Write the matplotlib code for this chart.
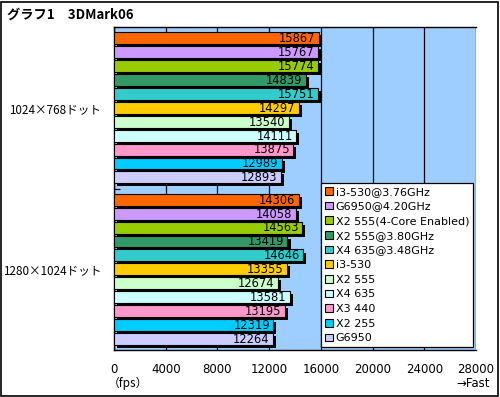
import numpy as np
import matplotlib
matplotlib.use('Agg')
import matplotlib.pyplot as plt
import matplotlib.patheffects as pe
from matplotlib.patches import Rectangle

plt.rcParams['font.family'] = ['DejaVu Sans', 'Noto Sans CJK JP']

# data
groups = ['1024×768ドット', '1280×1024ドット']
series = ['i3-530@3.76GHz', 'G6950@4.20GHz', 'X2 555(4-Core Enabled)',
          'X2 555@3.80GHz', 'X4 635@3.48GHz', 'i3-530', 'X2 555',
          'X4 635', 'X3 440', 'X2 255', 'G6950']
res_1024 = [15867, 15767, 15774, 14839, 15751, 14297, 13540, 14111, 13875, 12989, 12893]
res_1280 = [14306, 14058, 14563, 13419, 14646, 13355, 12674, 13581, 13195, 12319, 12264]
colors = ['#FF6600', '#CC99FF', '#99CC00', '#339966', '#33CCCC', '#FFCC00',
          '#CCFFCC', '#CCFFFF', '#FF99CC', '#00CCFF', '#CCCCFF']
xticks = [0, 4000, 8000, 12000, 16000, 20000, 24000, 28000]

values = [res_1024, res_1280]
jp = ['Noto Sans CJK JP', 'DejaVu Sans']

fig = plt.figure(figsize=(5.0, 3.97), dpi=100)
ax = fig.add_axes([0.228, 0.118, 0.724, 0.814])
ax.set_facecolor('#9ECEFF')

gw = 11.6  # group pitch in bar slots
shadow = [pe.SimplePatchShadow(offset=(2.2, -2.2), shadow_rgbFace='k', alpha=1.0), pe.Normal()]

for g in range(len(groups)):
    for j in range(len(series)):
        y = g * gw + 0.3 + j + 0.5
        v = values[g][j]
        b = ax.barh(y, v, height=0.86, color=colors[j], edgecolor='k',
                    linewidth=0.8, zorder=3, label=series[j] if g == 0 else None)
        b[0].set_path_effects(shadow)
        ax.annotate(str(v), (v, y), xytext=(-2.5, -0.3), textcoords='offset points',
                    ha='right', va='center', fontsize=8.3, zorder=5)

ax.set_xlim(0, 28000)
ax.set_ylim(2 * gw, 0)
ax.set_xticks(xticks)
ax.set_xticklabels([str(t) for t in xticks], fontsize=8.5)
ax.tick_params(axis='x', length=0, pad=9)
ax.grid(axis='x', color='k', linewidth=0.9, zorder=1)

ax.set_yticks([0, gw, 2 * gw])
ax.set_yticklabels([])
ax.tick_params(axis='y', which='major', direction='in', length=4, color='k')
ax.set_yticks([gw / 2, gw * 1.5], minor=True)
ax.set_yticklabels(groups, minor=True, fontsize=8.4, family=jp)
ax.tick_params(axis='y', which='minor', length=0, pad=9)

for s in ['left', 'bottom', 'top']:
    ax.spines[s].set_color('k')
    ax.spines[s].set_linewidth(1.0)
ax.spines['right'].set_visible(False)

leg = ax.legend(loc='lower right', bbox_to_anchor=(1.0, 0.0), borderaxespad=0.25,
                fontsize=8, frameon=True, fancybox=False, edgecolor='k',
                facecolor='white', framealpha=1.0,
                handlelength=0.7, handleheight=0.7, handletextpad=0.3,
                labelspacing=0.42, borderpad=0.35)
leg.get_frame().set_linewidth(0.9)
leg.set_zorder(10)
for h in leg.legend_handles:
    h.set_path_effects([])

fig.text(0.014, 0.962, 'グラフ1　3DMark06', fontsize=9.5, fontweight='bold',
         family=jp, va='center', ha='left')
fig.text(0.256, 0.035, '（fps）', fontsize=8.5, ha='center', va='center', family=jp)
fig.text(0.98, 0.035, '→Fast', fontsize=8.5, ha='right', va='center',
         family=['DejaVu Sans', 'Noto Sans CJK JP'])

fig.patches.append(Rectangle((0.002, 0.002), 0.994, 0.994, transform=fig.transFigure,
                             fill=False, edgecolor='k', linewidth=1.2))

fig.savefig('out.png', dpi=100)
